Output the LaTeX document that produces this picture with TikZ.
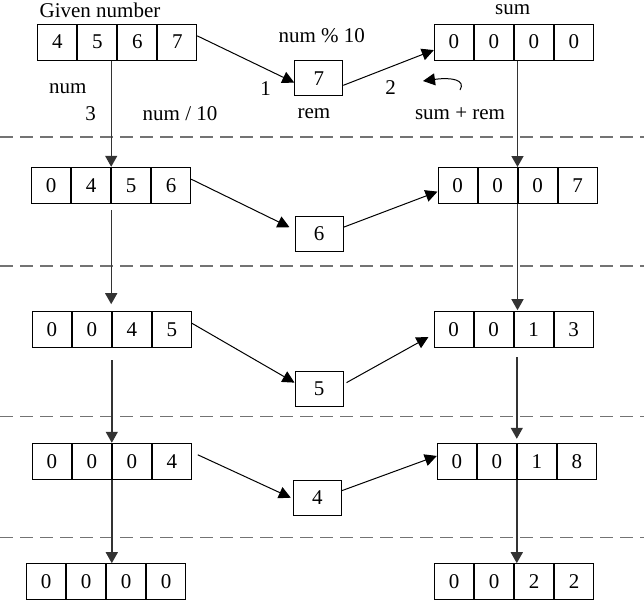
\documentclass[tikz,border=0pt]{standalone}
\usepackage{fontspec}
\setmainfont{Liberation Serif}
\usetikzlibrary{arrows.meta,positioning,calc}
\tikzstyle{cell} = [rectangle, draw=black, line width=0.5pt, minimum width=19.5pt, minimum height=18pt, inner sep=0pt]
\tikzstyle{rembox} = [rectangle, draw=black, line width=0.5pt, minimum width=24pt, minimum height=17.5pt, inner sep=0pt]
\tikzstyle{label} = [inner sep=0pt]
\tikzstyle{arrow} = [line width=0.5pt, -{Triangle[length=6pt,width=6pt]}]
\tikzstyle{vline} = [line width=0.7pt, black!80, -{Triangle[length=5.5pt,width=6pt]}]
\tikzstyle{sepline} = [line width=0.7pt, black!55, dash pattern=on 6.5pt off 3.5pt]

% one row of four digit cells: name, position, digits
\newcommand{\digitrow}[6]{%
  \node[cell] (#1a) at #2 {#3};
  \node[cell, right=0pt of #1a] (#1b) {#4};
  \node[cell, right=0pt of #1b] (#1c) {#5};
  \node[cell, right=0pt of #1c] (#1d) {#6};
}

\begin{document}
\begin{tikzpicture}[x=0.5pt, y=-0.5pt, font=\fontsize{10.5}{12}\selectfont]
\useasboundingbox (0,0) rectangle (644,600);

% TRENNLINIEN
\draw [sepline] (0,137) -- (644,137);
\draw [sepline] (0,266) -- (644,266);
\draw [sepline] (0,416.7) -- (644,416.7);
\draw [sepline] (0,537.3) -- (644,537.3);

% ZEILE 1
\digitrow{l1}{(57.3,42)}{4}{5}{6}{7}
\digitrow{r1}{(453.8,42)}{0}{0}{0}{0}
\node (rem1) [rembox] at (318.8,78.3) {7};

% ZEILE 2
\digitrow{l2}{(51.2,185.3)}{0}{4}{5}{6}
\digitrow{r2}{(457.5,185.5)}{0}{0}{0}{7}
\node (rem2) [rembox] at (319,233.8) {6};

% ZEILE 3
\digitrow{l3}{(51.8,329.7)}{0}{0}{4}{5}
\digitrow{r3}{(453.5,329.7)}{0}{0}{1}{3}
\node (rem3) [rembox] at (319,389.2) {5};

% ZEILE 4
\digitrow{l4}{(51.8,461.3)}{0}{0}{0}{4}
\digitrow{r4}{(456.8,461.3)}{0}{0}{1}{8}
\node (rem4) [rembox] at (317.3,497.7) {4};

% ZEILE 5
\digitrow{l5}{(46.2,581.7)}{0}{0}{0}{0}
\digitrow{r5}{(454.2,581.7)}{0}{0}{2}{2}

% Beschriftung
\node (given) [label] at (100,10) {Given number};
\node (sum) [label] at (512.7,10) {sum};
\node (mod) [label] at (321.7,36) {num \% 10};
\node (one) [label] at (265.7,89) {1};
\node (two) [label] at (390.7,88) {2};
\node (num) [label] at (67.7,89) {num};
\node (three) [label] at (90.7,114) {3};
\node (div) [label] at (180,114) {num / 10};
\node (rem) [label] at (314,114) {rem};
\node (add) [label] at (460,114) {sum + rem};
\coordinate (turnA) at (460,90);
\coordinate (turnB) at (423,81);

% PFEILE - num % 10 und sum + rem
\draw [arrow] (l1d.17) -- (rem1.190);
\draw [arrow] (rem1.-16) -- (r1a.202);
\draw [arrow] (l2d.17) -- ([xshift=-2.5pt]rem2.165);
\draw [arrow] (rem2.15) -- (r2a.197);
\draw [arrow] (l3d.18) -- (rem3.165);
\draw [arrow] ([xshift=1.5pt]rem3.15) -- ([xshift=-2.5pt]r3a.200);
\draw [arrow] ([xshift=3pt]l4d.18) -- ([xshift=-1pt]rem4.west);
\draw [arrow] (rem4.16) -- (r4a.165);
\draw [arrow] (turnA) .. controls (466,80) and (452,77) .. (turnB);

% PFEILE - num / 10 (links)
\draw [vline] (l2b.north east |- l1b.south) -- (l2b.north east);
\draw [vline, shorten <=3pt, shorten >=3.5pt] (l2b.south east) -- (l2b.south east |- l3b.north);
\draw [vline, shorten <=6pt] (l4b.north east |- l3b.south) -- (l4b.north east);
\draw [vline] (l4b.south east) -- (l4b.south east |- l5b.north);

% PFEILE - Summe (rechts)
\draw [vline] (r2b.north east |- r1b.south) -- (r2b.north east);
\draw [vline, shorten >=0.5pt] (r2b.south east) -- (r2b.south east |- r3b.north);
\draw [vline, shorten <=4.5pt, shorten >=2pt] (r4b.north east |- r3b.south) -- (r4b.north east);
\draw [vline] (r4b.south east) -- (r4b.south east |- r5b.north);

\end{tikzpicture}
\end{document}
